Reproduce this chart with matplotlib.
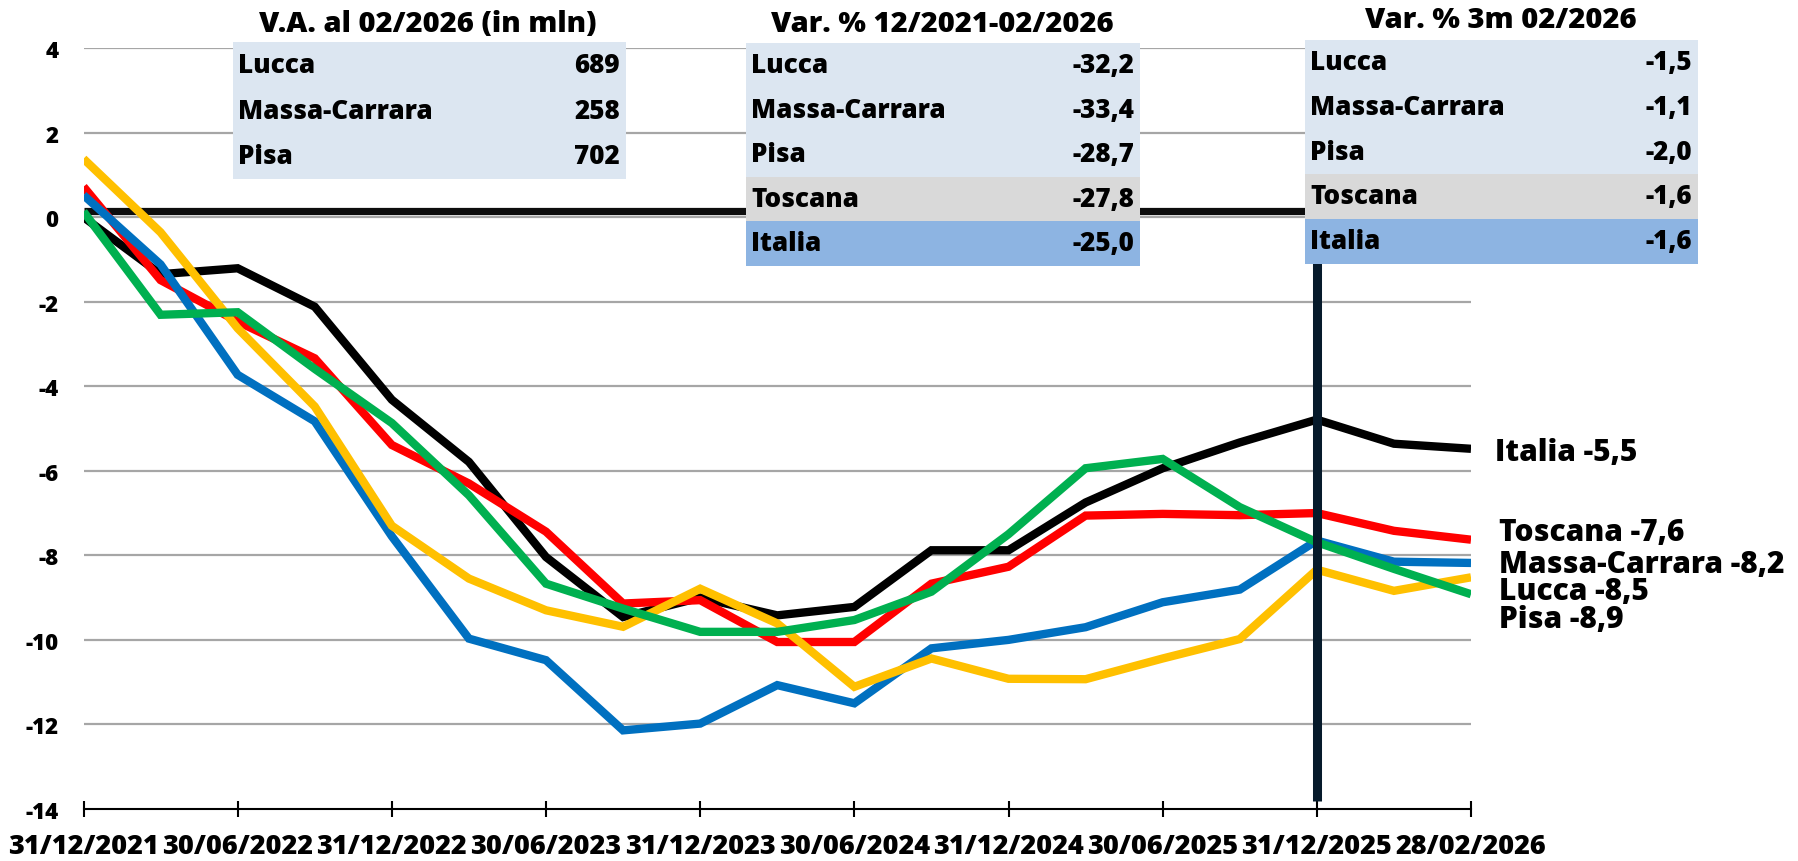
import matplotlib
matplotlib.use("Agg")
import matplotlib.pyplot as plt
from matplotlib.patches import Rectangle

plt.rcParams['font.family'] = ['Open Sans', 'DejaVu Sans']
plt.rcParams['font.weight'] = 'bold'

# ---------------- data ----------------
dates = ["31/12/2021", "31/03/2022", "30/06/2022", "30/09/2022", "31/12/2022",
         "31/03/2023", "30/06/2023", "30/09/2023", "31/12/2023", "31/03/2024",
         "30/06/2024", "30/09/2024", "31/12/2024", "31/03/2025", "30/06/2025",
         "30/09/2025", "31/12/2025", "31/01/2026", "28/02/2026"]

italia = [0.0, -1.35, -1.21, -2.12, -4.32, -5.79, -8.04, -9.46, -9.0, -9.42,
          -9.22, -7.88, -7.88, -6.75, -5.94, -5.33, -4.79, -5.36, -5.48]
toscana = [0.72, -1.49, -2.47, -3.34, -5.39, -6.30, -7.44, -9.14, -9.06, -10.05,
           -10.05, -8.67, -8.27, -7.06, -7.02, -7.05, -7.0, -7.42, -7.63]
massa_carrara = [0.52, -1.12, -3.73, -4.83, -7.55, -9.97, -10.48, -12.14, -11.98, -11.07,
                 -11.5, -10.2, -10.0, -9.70, -9.11, -8.81, -7.65, -8.15, -8.18]
lucca = [1.38, -0.36, -2.63, -4.48, -7.3, -8.55, -9.30, -9.69, -8.79, -9.61,
         -11.11, -10.44, -10.92, -10.93, -10.44, -9.98, -8.34, -8.84, -8.52]
pisa = [0.13, -2.31, -2.25, -3.59, -4.87, -6.58, -8.67, -9.26, -9.81, -9.81,
        -9.53, -8.86, -7.5, -5.94, -5.72, -6.86, -7.69, -8.32, -8.92]

series_names = ["Italia", "Toscana", "Massa-Carrara", "Lucca", "Pisa"]
series_values = [italia, toscana, massa_carrara, lucca, pisa]
series_colors = ["#000000", "#ff0000", "#0070c0", "#ffc000", "#00b050"]
end_labels = [-5.5, -7.6, -8.2, -8.5, -8.9]

table1_title = "V.A. al 02/2026 (in mln)"
table1_names = ["Lucca", "Massa-Carrara", "Pisa"]
table1_values = ["689", "258", "702"]

table2_title = "Var. % 12/2021-02/2026"
table2_names = ["Lucca", "Massa-Carrara", "Pisa", "Toscana", "Italia"]
table2_values = [-32.2, -33.4, -28.7, -27.8, -25.0]

table3_title = "Var. % 3m 02/2026"
table3_names = ["Lucca", "Massa-Carrara", "Pisa", "Toscana", "Italia"]
table3_values = [-1.5, -1.1, -2.0, -1.6, -1.6]

reference_level = 0.15     # thick black horizontal line
marker_date = "31/12/2025"  # vertical line

yticks = [-14, -12, -10, -8, -6, -4, -2, 0, 2, 4]

FW = "heavy"


def fmt(v):
    return f"{v:.1f}".replace(".", ",")


# ---------------- figure ----------------
W, H = 1798, 862
fig = plt.figure(figsize=(W / 100, H / 100), dpi=100)
ax = fig.add_axes([83.5 / W, 1 - 810 / H, (1471 - 83.5) / W, (810 - 49) / H])

x = list(range(len(dates)))
ax.set_xlim(0, len(dates) - 1)
ax.set_ylim(-14, 4)

for yv in yticks[1:]:
    ax.axhline(yv, color="#a6a6a6", lw=1.6, zorder=1)

ax.axhline(reference_level, color="#0d0d0d", lw=5.2, zorder=2, solid_capstyle="butt")

for vals, col in zip(series_values, series_colors):
    ax.plot(x, vals, color=col, lw=6.0, zorder=3, solid_joinstyle="miter",
            solid_capstyle="butt")

xv = dates.index(marker_date)
ax.plot([xv, xv], [-13.8, 4], color="#061a2b", lw=6.5, zorder=4, solid_capstyle="butt")

ax.set_yticks(yticks)
ax.set_yticklabels([str(t) for t in yticks], fontsize=16, fontweight=FW)
ax.tick_params(axis="y", length=0, pad=18)

tick_idx = list(range(0, len(dates), 2))
ax.set_xticks(tick_idx)
ax.set_xticklabels([dates[i] for i in tick_idx], fontsize=19.5, fontweight=FW)
ax.tick_params(axis="x", direction="inout", length=12, width=1.5, pad=11, color="black")

for s in ["left", "right", "top"]:
    ax.spines[s].set_visible(False)
ax.spines["bottom"].set_linewidth(1.5)
ax.spines["bottom"].set_color("black")
ax.patch.set_visible(False)

# ---------------- overlay (tables, end labels) ----------------
ov = fig.add_axes([0, 0, 1, 1], zorder=10)
ov.set_xlim(0, W)
ov.set_ylim(H, 0)
ov.axis("off")
ov.patch.set_visible(False)

LIGHT, GREY, BLUE = "#dce6f1", "#d9d9d9", "#8db4e2"
row_fs = 18.7


def draw_table(x0, x1, top, row_h, names, values, title, title_xy, colors):
    for k, (n, v) in enumerate(zip(names, values)):
        y0 = top + k * row_h
        ov.add_patch(Rectangle((x0, y0), x1 - x0, row_h, facecolor=colors[k],
                               edgecolor="none"))
        ov.text(x0 + 5, y0 + row_h / 2, n, ha="left", va="center",
                fontsize=row_fs, fontweight=FW)
        ov.text(x1 - 6, y0 + row_h / 2, v, ha="right", va="center",
                fontsize=row_fs, fontweight=FW)
    ov.text(title_xy[0], title_xy[1], title, ha="center", va="center",
            fontsize=21, fontweight=FW)


draw_table(233, 626, 43.3, 45.6, table1_names, table1_values, table1_title,
           (428, 25), [LIGHT] * 3)
draw_table(746, 1140, 44, 44.5, table2_names, [fmt(v) for v in table2_values],
           table2_title, (942, 25), [LIGHT] * 3 + [GREY, BLUE])
draw_table(1305, 1698, 40.7, 44.8, table3_names, [fmt(v) for v in table3_values],
           table3_title, (1501, 21), [LIGHT] * 3 + [GREY, BLUE])

label_pos = [(1495, 452.7), (1499, 533.3), (1499, 565), (1499, 591.7), (1499, 620)]
for name, v, (lx, ly) in zip(series_names, end_labels, label_pos):
    ov.text(lx, ly, f"{name} {fmt(v)}", ha="left", va="center", fontsize=21.5,
            fontweight=FW)

fig.savefig("out.png", dpi=100)
